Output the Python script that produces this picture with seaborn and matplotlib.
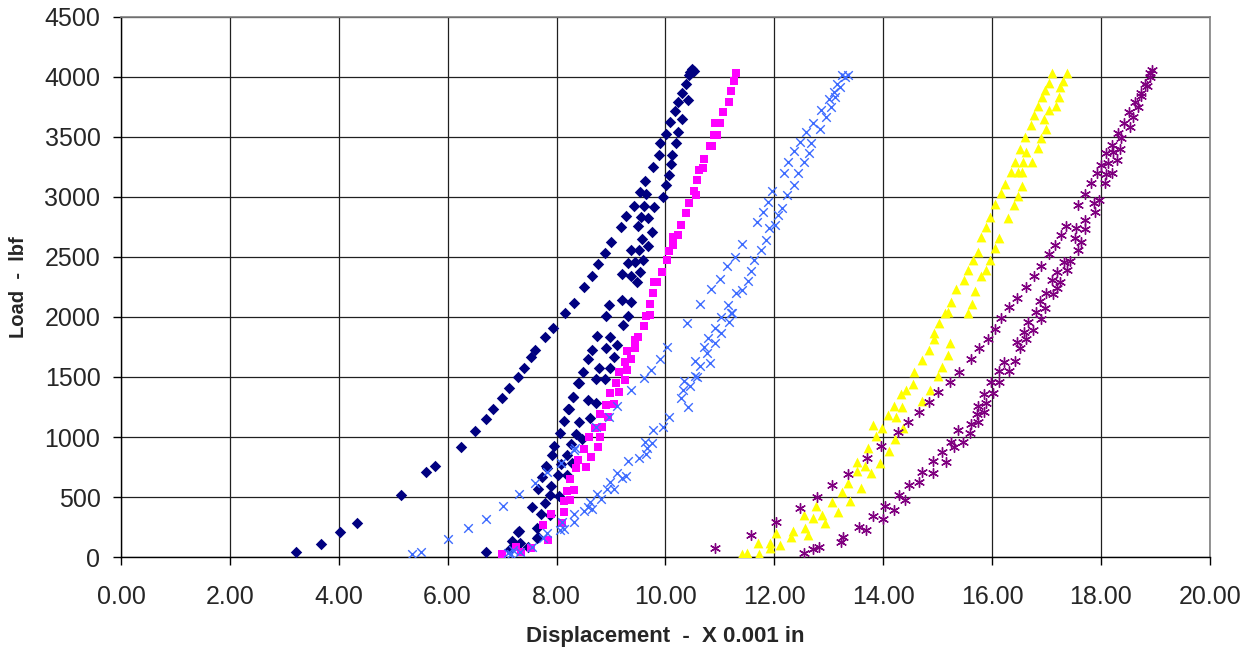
import numpy as np
import pandas as pd
import matplotlib
matplotlib.use("Agg")
import matplotlib.pyplot as plt
import seaborn as sns

# =========================
# DATA (displacement x 0.001 in, load lbf)
# =========================
series1 = [  # navy diamonds
    (3.22, 44), (3.68, 106), (4.02, 206), (4.33, 283), (5.14, 519), (5.61, 706), (5.76, 756),
    (6.24, 919), (6.50, 1047), (6.70, 1147), (6.83, 1233), (6.99, 1322), (7.13, 1411), (7.29, 1500),
    (7.40, 1578), (7.53, 1664), (7.61, 1725), (7.78, 1833), (7.93, 1911), (8.16, 2031), (8.33, 2119),
    (8.50, 2253), (8.66, 2344), (8.76, 2444), (8.90, 2533), (9.00, 2622), (9.18, 2750), (9.28, 2839),
    (9.42, 2928), (9.53, 3044), (9.63, 3133), (9.77, 3250), (9.88, 3350), (9.91, 3447), (10.01, 3528),
    (10.09, 3622), (10.17, 3719), (10.23, 3789), (10.31, 3869), (10.37, 3942), (10.44, 4017),
    (10.49, 4064), (10.52, 4050), (10.46, 4040),
    (10.42, 3808), (10.31, 3647), (10.23, 3544), (10.20, 3453), (10.13, 3350), (10.11, 3272),
    (10.07, 3183), (10.01, 3100), (9.96, 2997), (9.80, 2919), (9.69, 2825), (9.75, 2711), (9.68, 2592),
    (9.59, 2475), (9.53, 2378), (9.48, 2294), (9.37, 2128), (9.31, 2008),
    (9.64, 3022), (9.61, 2928), (9.56, 2836), (9.50, 2761), (9.57, 2647), (9.51, 2558), (9.45, 2461),
    (9.36, 2558), (9.31, 2453), (9.20, 2358), (9.37, 2344), (9.20, 2142), (8.97, 2100), (8.91, 2008),
    (9.23, 1933), (8.74, 1844), (8.99, 1831), (9.12, 1767), (8.65, 1725), (8.91, 1744), (9.05, 1669),
    (8.57, 1647), (8.78, 1578), (8.99, 1578), (8.48, 1539), (8.72, 1486), (8.90, 1481), (8.42, 1453),
    (8.30, 1331), (8.57, 1306), (8.72, 1286), (8.22, 1236), (8.61, 1156), (8.42, 1128), (8.13, 1131),
    (8.07, 1036), (8.35, 1025), (8.47, 981), (7.96, 928), (8.26, 939), (7.91, 850), (8.19, 850),
    (8.08, 772), (8.28, 781), (7.82, 744), (8.02, 683), (8.19, 683), (7.74, 664), (7.66, 564),
    (7.90, 594), (8.05, 511), (7.79, 453), (7.55, 414), (7.88, 350), (7.71, 356), (7.31, 217),
    (7.66, 164), (7.18, 136), (7.33, 114), (6.70, 44), (7.15, 64), (7.30, 211), (7.64, 161),
    (7.48, 86), (7.65, 244), (7.88, 517), (7.80, 758), (8.23, 1233), (8.39, 1453), (8.31, 1331),
]

series2 = [  # magenta squares
    (6.99, 25), (7.26, 86), (7.34, 39), (7.53, 72), (7.76, 267), (7.84, 142), (7.90, 356), (8.10, 286),
    (8.14, 375), (8.14, 464), (8.25, 472), (8.19, 550), (8.33, 558), (8.25, 650), (8.35, 739),
    (8.55, 747), (8.40, 808), (8.63, 836), (8.50, 900), (8.77, 917), (8.60, 997), (8.80, 997),
    (8.70, 1078), (8.84, 1083), (8.79, 1189), (8.95, 1169), (8.91, 1269), (9.05, 1272), (8.99, 1369),
    (9.14, 1378), (9.10, 1450), (9.25, 1475), (9.14, 1544), (9.29, 1558), (9.25, 1622), (9.36, 1650),
    (9.29, 1714), (9.45, 1739), (9.44, 1808), (9.49, 1831), (9.60, 1928), (9.64, 2008), (9.71, 2014),
    (9.71, 2106), (9.77, 2197), (9.80, 2292), (9.84, 2290), (9.93, 2378), (10.03, 2475), (10.06, 2547),
    (10.14, 2597), (10.14, 2667), (10.24, 2683), (10.28, 2769), (10.38, 2869), (10.43, 2953),
    (10.56, 3019), (10.52, 3050), (10.58, 3142), (10.70, 3239), (10.61, 3225), (10.71, 3314),
    (10.82, 3425), (10.86, 3425), (10.89, 3519), (10.94, 3519), (10.92, 3617), (11.00, 3617),
    (11.06, 3706), (11.17, 3792), (11.20, 3886), (11.26, 3969), (11.29, 4031),
]

series3 = [  # light blue crosses
    (5.35, 25), (5.52, 44), (6.01, 153), (6.38, 242), (6.70, 319), (7.02, 428), (7.31, 522),
    (7.61, 617), (7.82, 706), (8.08, 786), (8.32, 892), (8.34, 906), (8.73, 1086), (8.96, 1169),
    (9.11, 1258), (9.37, 1392), (9.60, 1489), (9.74, 1558), (9.90, 1647), (10.03, 1753), (10.39, 1953),
    (10.63, 2108), (10.83, 2236), (11.00, 2317), (11.14, 2422), (11.28, 2503), (11.41, 2611),
    (11.69, 2794), (11.80, 2875), (11.88, 2961), (11.96, 3053), (12.18, 3203), (12.26, 3292),
    (12.37, 3381), (12.48, 3458), (12.59, 3542), (12.72, 3619), (12.85, 3728), (13.01, 3814),
    (13.10, 3878), (13.16, 3942), (13.24, 4017), (13.35, 4017),
    (7.10, 31), (7.16, 25), (7.21, 58), (7.33, 39), (7.55, 86), (7.76, 156), (7.82, 197), (8.07, 225),
    (8.14, 231), (8.10, 289), (8.32, 294), (8.32, 358), (8.51, 383), (8.57, 414), (8.65, 400),
    (8.62, 461), (8.75, 525), (8.82, 481), (8.93, 567), (8.99, 628), (9.06, 567), (9.12, 703),
    (9.20, 656), (9.27, 678), (9.32, 803), (9.51, 822), (9.64, 858), (9.66, 906), (9.63, 961),
    (9.75, 947), (9.77, 1058), (9.95, 1086), (10.06, 1164), (10.28, 1322), (10.32, 1392),
    (10.42, 1247), (10.46, 1425), (10.34, 1467), (10.54, 1508), (10.58, 1500), (10.54, 1636),
    (10.64, 1592), (10.71, 1753), (10.77, 1697), (10.82, 1619), (10.92, 1781), (10.78, 1828),
    (10.91, 1911), (11.02, 1869), (11.03, 2003), (11.17, 1961), (11.20, 2031), (11.15, 2100),
    (11.23, 2036), (11.29, 2197), (11.41, 2225), (11.52, 2303), (11.57, 2386), (11.63, 2475),
    (11.76, 2558), (11.84, 2642), (11.90, 2739), (12.01, 2767), (12.07, 2850), (12.15, 2906),
    (12.24, 3017), (12.36, 3100), (12.44, 3197), (12.55, 3294), (12.64, 3369), (12.67, 3447),
    (12.84, 3567), (12.95, 3669), (13.04, 3753), (13.12, 3831), (13.21, 3919), (13.30, 4003),
]

series4 = [  # yellow triangles
    (11.41, 22), (11.50, 31), (11.72, 22), (11.70, 119), (11.92, 119), (11.92, 72), (12.10, 100),
    (12.03, 203), (12.30, 169), (12.35, 217), (12.62, 183), (12.57, 244), (12.55, 350), (12.71, 322),
    (12.87, 350), (12.94, 281), (12.76, 428), (13.07, 461), (13.17, 372), (13.24, 544), (13.39, 467),
    (13.36, 614), (13.59, 578), (13.52, 719), (13.66, 761), (13.78, 703), (13.52, 789), (13.73, 906),
    (13.94, 781), (13.87, 1008), (13.98, 1078), (13.82, 1100), (14.11, 886), (14.22, 981),
    (14.36, 1072), (14.09, 1183), (14.24, 1164), (14.20, 1258), (14.35, 1247), (14.33, 1356),
    (14.42, 1392), (14.55, 1442), (14.72, 1303), (14.87, 1392), (15.00, 1508), (14.57, 1544),
    (14.71, 1642), (14.85, 1725), (14.94, 1814), (15.08, 1586), (15.19, 1683), (15.22, 1781),
    (15.03, 1947), (14.94, 1864), (15.13, 2031), (15.25, 2128), (15.19, 2044), (15.34, 2231),
    (15.48, 2308), (15.56, 2392), (15.65, 2475), (15.74, 2544), (15.80, 2669), (15.89, 2753),
    (15.97, 2836), (16.05, 2942), (16.17, 3031), (16.23, 3108), (16.34, 3206), (16.43, 3294),
    (16.52, 3397), (16.61, 3497), (16.71, 3600), (16.78, 3683), (16.84, 3758), (16.92, 3831),
    (16.98, 3892), (17.04, 3947), (17.11, 4031),
    (17.37, 4031), (17.30, 3969), (17.24, 3919), (17.23, 3831), (17.17, 3761), (17.04, 3725),
    (16.95, 3647), (16.99, 3567), (16.90, 3494), (16.84, 3406), (16.73, 3294), (16.55, 3206),
    (16.55, 3092), (16.47, 3008), (16.40, 2931), (16.29, 2828), (16.12, 2656), (16.05, 2572),
    (15.96, 2475), (15.89, 2392), (15.80, 2342), (15.69, 2219), (15.63, 2106), (15.56, 2031),
    (16.47, 3211), (16.57, 3294), (16.62, 3378),
]

series5 = [  # purple stars
    (10.91, 78), (11.57, 183), (12.04, 294), (12.47, 408), (12.78, 503), (13.07, 597), (13.35, 692),
    (13.71, 822), (13.96, 928), (14.27, 1039), (14.45, 1128), (14.65, 1211), (14.85, 1294),
    (15.01, 1378), (15.22, 1461), (15.39, 1544), (15.62, 1647), (15.77, 1744), (15.92, 1814),
    (16.06, 1900), (16.17, 1989), (16.32, 2081), (16.46, 2156), (16.63, 2253), (16.78, 2342),
    (16.90, 2425), (17.04, 2525), (17.15, 2600), (17.27, 2683), (17.36, 2761), (17.58, 2933),
    (17.71, 3025), (17.82, 3119), (17.92, 3197), (18.01, 3267), (18.10, 3364), (18.21, 3433),
    (18.32, 3536), (18.43, 3614), (18.51, 3711), (18.62, 3794), (18.73, 3864), (18.81, 3942),
    (18.90, 4031),
    (12.55, 31), (12.72, 64), (12.82, 81), (13.22, 128), (13.27, 164), (13.55, 253), (13.69, 225),
    (13.82, 342), (13.99, 314), (14.04, 428), (14.20, 392), (14.29, 517), (14.41, 475), (14.47, 600),
    (14.65, 628), (14.71, 711), (14.91, 697), (14.91, 803), (15.08, 878), (15.16, 794), (15.24, 961),
    (15.31, 919), (15.38, 1058), (15.46, 961), (15.59, 1031), (15.62, 1106), (15.74, 1128),
    (15.73, 1189), (15.85, 1211), (15.74, 1261), (15.89, 1281), (15.86, 1356), (16.01, 1369),
    (15.99, 1461), (16.13, 1461), (16.12, 1550), (16.32, 1550), (16.22, 1628), (16.42, 1636),
    (16.51, 1744), (16.46, 1794), (16.63, 1814), (16.59, 1878), (16.75, 1892), (16.67, 1956),
    (16.90, 1981), (16.81, 2044), (16.98, 2072), (16.89, 2136), (17.00, 2197), (17.12, 2192),
    (17.20, 2239), (17.11, 2308), (17.24, 2294), (17.20, 2378), (17.38, 2392), (17.32, 2461),
    (17.43, 2469), (17.58, 2558), (17.64, 2628), (17.52, 2656), (17.55, 2739), (17.71, 2731),
    (17.71, 2808), (17.90, 2878), (17.88, 2953), (17.97, 2975), (18.07, 3114), (18.10, 3189),
    (18.20, 3197), (18.14, 3281), (18.29, 3308), (18.23, 3378), (18.35, 3397), (18.37, 3489),
    (18.53, 3583), (18.59, 3669), (18.68, 3753), (18.74, 3842), (18.85, 3925), (18.91, 4003),
    (18.93, 4058),
]

x_ticks = np.arange(0, 20.01, 2)
y_ticks = np.arange(0, 4501, 500)

# =========================
# Styling per series
# =========================
styles = [
    (series1, "#000080", "D", 34, 0.0),
    (series2, "#FF00FF", "s", 38, 0.0),
    (series3, "#3D6BFF", "x", 38, 1.0),
    (series4, "#FFFF00", "^", 50, 0.0),
    (series5, "#800080", (6, 2, 0), 50, 1.0),
]

sns.set_style("white")
plt.rcParams["font.family"] = ["Liberation Sans", "DejaVu Sans"]

fig = plt.figure(figsize=(12.5, 6.53), dpi=100)
ax = fig.add_axes([0.0968, 0.147, 0.871, 0.827])

for data, color, marker, size, lw in styles:
    df = pd.DataFrame(data, columns=["disp", "load"])
    sns.scatterplot(data=df, x="disp", y="load", color=color, marker=marker,
                    s=size, linewidth=lw, edgecolor=color if lw == 0 else None,
                    ax=ax, zorder=3, legend=False)

ax.set_xlim(0, 20)
ax.set_ylim(0, 4500)
ax.set_xticks(x_ticks)
ax.set_yticks(y_ticks)
ax.set_xticklabels([f"{v:.2f}" for v in x_ticks])
ax.set_yticklabels([f"{int(v)}" for v in y_ticks])
ax.grid(True, color="#202020", linewidth=0.9)
ax.set_axisbelow(True)

for side in ["left", "bottom"]:
    ax.spines[side].set_color("black")
    ax.spines[side].set_linewidth(1.0)
for side in ["top", "right"]:
    ax.spines[side].set_color("#808080")
    ax.spines[side].set_linewidth(1.2)

ax.tick_params(axis="both", direction="out", length=5.8, width=1, color="black",
               labelsize=18, bottom=True, left=True)
ax.tick_params(axis="x", pad=14)
ax.tick_params(axis="y", pad=9)

ax.set_xlabel("Displacement  -  X 0.001 in", fontsize=16, fontweight="bold", va="center")
ax.set_ylabel("Load  -  lbf", fontsize=14.5, fontweight="bold", va="center")
ax.xaxis.set_label_coords(0.5, -0.148)
ax.yaxis.set_label_coords(-0.094, 0.5)

fig.savefig("out.png", dpi=100)
